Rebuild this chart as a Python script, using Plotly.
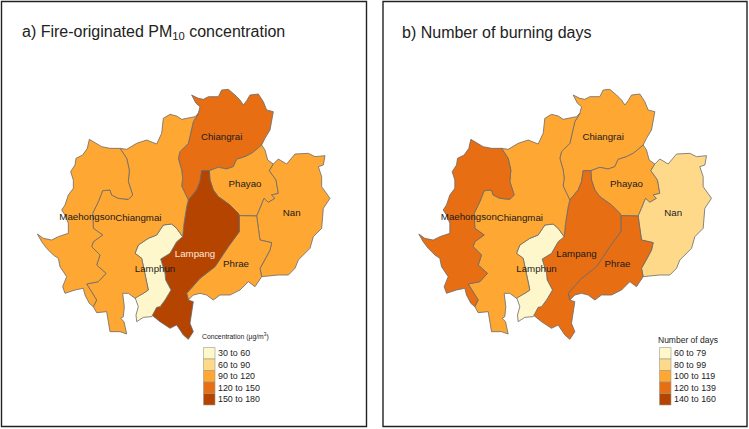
import plotly.graph_objects as go

# Map geometry: shared province boundary chains, in map units
CR_N = [(595,160),(600,140),(588,130),(575,105),(595,115),(610,118),(625,110),(635,110),(655,110),(665,90),(685,88),(705,105),(720,120),(730,135),(740,122),(750,105),(775,102),(790,125),(800,150),(820,155),(815,180),(810,210),(795,235),(785,255)]
CR_W = [(595,160),(580,185),(575,205),(570,230),(565,250),(540,275),(535,295),(545,330),(548,355),(545,378),(555,400),(565,420)]
CR_PH = [(785,255),(770,268),(755,280),(735,290),(710,298),(700,320),(680,327),(655,322),(628,332)]
CR_LP = [(628,332),(605,332),(600,365),(590,390),(565,420)]
PH_NE = [(785,255),(795,270),(803,300),(820,312)]
PH_NAN = [(820,312),(808,332),(828,360),(835,400),(815,405),(825,415),(805,427),(792,415),(780,445),(770,468)]
PH_PR = [(770,468),(740,467),(718,467)]
PH_LP = [(718,467),(715,460),(690,435),(655,410),(640,390),(630,360),(628,332)]
NAN_OUT = [(820,312),(835,297),(860,312),(885,282),(925,280),(945,290),(975,287),(970,315),(955,320),(965,350),(965,380),(990,415),(970,445),(965,490),(965,505),(940,530),(930,565),(895,600),(885,625),(865,645),(835,645),(785,650)]
NAN_PR = [(770,468),(775,505),(780,540),(815,548),(810,570),(800,590),(780,625),(785,650)]
PR_LP = [(718,467),(718,515),(685,560),(645,620),(600,655),(560,700),(565,720)]
PR_S = [(565,720),(580,705),(600,700),(620,705),(640,720),(660,705),(690,705),(720,690),(745,665),(765,680),(785,650)]
LP_CM = [(565,420),(560,440),(552,490),(548,530)]
LP_LH = [(548,530),(530,545),(510,580),(482,597),(495,640),(497,660),(513,690),(495,720),(480,740)]
LP_S = [(480,740),(450,742),(455,765),(480,785),(510,805),(530,795),(550,825),(565,838),(580,815),(570,790),(580,725),(565,720)]
LH_S = [(480,740),(470,742),(455,770),(430,772),(410,785),(408,765),(415,740),(405,712),(430,700),(445,690)]
LH_CM = [(445,690),(440,660),(432,625),(425,595),(405,580),(415,555),(445,535),(470,525),(490,495),(515,492),(530,505),(548,530)]
CM_N = [(360,265),(380,268),(410,250),(440,240),(470,252),(485,220),(490,175),(510,163),(530,168),(545,178),(585,170),(595,160)]
CM_S = [(445,690),(430,700),(405,715),(385,700),(368,700),(373,740),(370,770),(362,775),(372,785),(380,822),(360,815),(330,815),(325,790),(320,755),(290,758),(280,740)]
CM_MH = [(360,265),(380,295),(388,330),(385,365),(398,405),(385,418),(355,415),(335,405),(330,390),(308,392),(295,425),(278,460),(280,505),(308,525),(280,545),(275,560),(300,585),(290,615),(318,640),(295,665),(260,672),(275,695),(290,720),(280,740)]
MH_OUT = [(360,265),(330,265),(305,260),(285,248),(268,238),(262,265),(248,285),(228,295),(225,315),(212,335),(220,360),(220,385),(205,405),(195,435),(185,450),(195,465),(205,490),(205,520),(175,530),(155,540),(130,535),(112,522),(125,545),(140,565),(160,585),(175,595),(180,620),(200,650),(188,680),(195,700),(225,690),(250,685),(255,705),(268,730),(280,740)]

def rev(c):
    return c[::-1]

provinces = ["Chiangrai","Phayao","Nan","Phrae","Lampang","Lamphun","Chiangmai","Maehongson"]
outlines = [
    CR_N + CR_PH + CR_LP + rev(CR_W),
    PH_NE + PH_NAN + PH_PR + PH_LP + rev(CR_PH),
    NAN_OUT + rev(NAN_PR) + rev(PH_NAN),
    PH_PR + PR_LP + PR_S + rev(NAN_PR),
    CR_LP + LP_CM + LP_LH + LP_S + rev(PR_LP) + PH_LP,
    rev(LH_CM) + rev(LH_S) + rev(LP_LH),
    CM_N + CR_W + LP_CM + rev(LH_CM) + CM_S + rev(CM_MH),
    MH_OUT + rev(CM_MH),
]
label_x = [665,735,875,708,585,465,415,262]
label_y = [232,373,462,613,584,630,476,472]

colors = ["#FFF7CC","#FFD98A","#FFA733","#E86E14","#B54400"]
pm_class = [3,2,2,2,4,0,2,2]
days_class = [2,2,1,3,3,0,2,3]
pm_legend = ["30 to 60","60 to 90","90 to 120","120 to 150","150 to 180"]
days_legend = ["60 to 79","80 to 99","100 to 119","120 to 139","140 to 160"]

W, H = 749, 429
fig = go.Figure()
panels = [("x","y",pm_class), ("x2","y2",days_class)]
for xa, ya, cls in panels:
    for name, poly, c in zip(provinces, outlines, cls):
        fig.add_trace(go.Scatter(x=[p[0] for p in poly], y=[p[1] for p in poly], xaxis=xa, yaxis=ya,
                                 mode="lines", fill="toself", fillcolor=colors[c],
                                 line=dict(color="#6a6a6a", width=0.8), hoverinfo="skip", showlegend=False))
    fig.add_trace(go.Scatter(x=label_x, y=label_y, xaxis=xa, yaxis=ya, mode="text", text=provinces,
                             textposition="middle center",
                             textfont=dict(family="Liberation Sans", size=9.7,
                                           color=["#FFE9DC" if c == 4 else "#1a1a1a" for c in cls]),
                             hoverinfo="skip", showlegend=False))

A_X0, B_X0 = 0, 381.5
ax = dict(visible=False, fixedrange=True)
fig.update_layout(
    width=W, height=H, margin=dict(l=0, r=0, t=0, b=0), paper_bgcolor="white", plot_bgcolor="white",
    xaxis=dict(domain=[A_X0/W, 375/W], range=[0,1125], **ax),
    yaxis=dict(domain=[0,1], range=[1107,-180], **ax),
    xaxis2=dict(domain=[B_X0/W, 1], range=[0,1102.5], **ax),
    yaxis2=dict(domain=[0,1], range=[1107,-180], anchor="x2", **ax),
)

def px(x): return x/W
def py(y): return 1-y/H

shapes, ann = [], []
for x0, x1 in [(1.5,366.5),(383,747)]:
    shapes.append(dict(type="rect", xref="paper", yref="paper", x0=px(x0), x1=px(x1), y0=py(426.5), y1=py(1.5),
                       line=dict(color="#222222", width=1.4), fillcolor="rgba(0,0,0,0)"))

def text(x, y, s, size, color="#222222"):
    ann.append(dict(xref="paper", yref="paper", x=px(x), y=py(y), text=s, showarrow=False, xanchor="left", yanchor="middle",
                    font=dict(family="Liberation Sans", size=size, color=color), align="left"))

text(20, 32, "a) Fire-originated PM<sub>10</sub> concentration", 16)
text(400, 32, "b) Number of burning days", 16)
text(200, 336.5, "Concentration (µg/m<sup>3</sup>)", 6.8)
text(656, 339.5, "Number of days", 8.5)

for sx, tx, labs in [(203.5,215.5,pm_legend),(659.5,672,days_legend)]:
    for i, (c, l) in enumerate(zip(colors, labs)):
        y0 = 347.5 + 11.5*i
        shapes.append(dict(type="rect", xref="paper", yref="paper", x0=px(sx), x1=px(sx+11.5), y0=py(y0+11.5), y1=py(y0),
                           line=dict(color="#9a9a8a", width=0.6), fillcolor=c))
        text(tx, y0+5.8, l, 8.9)
fig.update_layout(shapes=shapes, annotations=ann)
fig.write_html("out.html", config={"displayModeBar": False},
               post_script="document.body.style.margin='0';document.body.style.overflow='hidden';")
